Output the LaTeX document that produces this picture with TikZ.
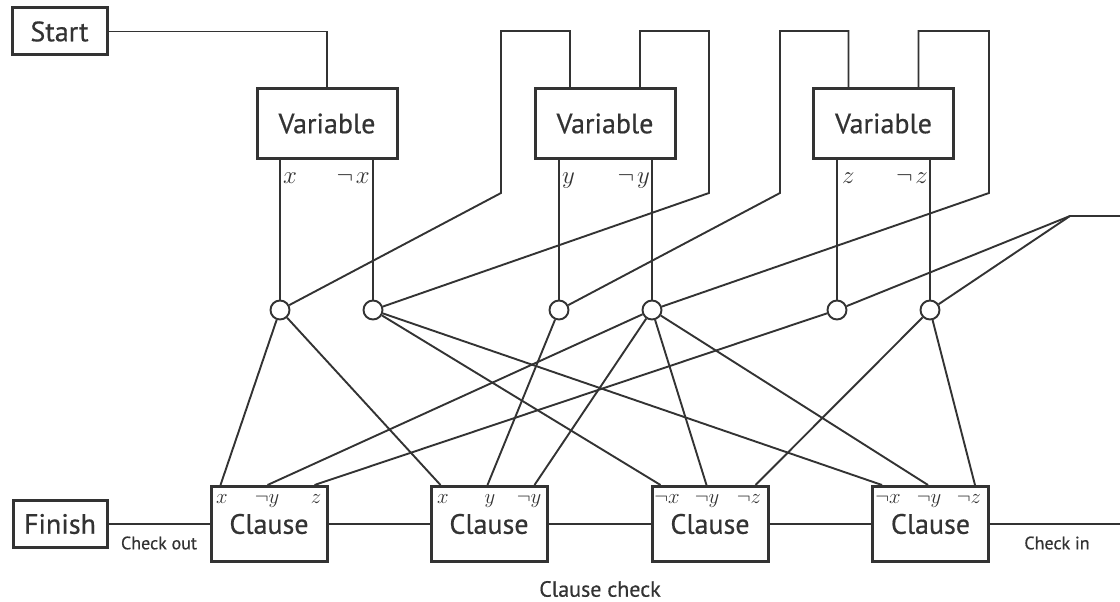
\documentclass[tikz,border=0pt]{standalone}
\usepackage{fontspec}
\setmainfont{PT Sans}[FakeBold=0.5]
\usetikzlibrary{calc}
\definecolor{ink}{HTML}{333333}
\begin{document}
\begin{tikzpicture}[x=1pt,y=-1pt,line join=miter,
  box/.style={draw=ink,line width=3pt,fill=white,inner sep=0pt,text=ink,font=\fontsize{28}{32}\selectfont},
  wire/.style={draw=ink,line width=1.9pt},
  dot/.style={circle,draw=ink,line width=1.9pt,fill=white,minimum size=19pt,inner sep=0pt},
  vlab/.style={inner sep=0pt,text=ink,font=\fontsize{30}{34}\selectfont},
  clab/.style={inner sep=0pt,text=ink,anchor=base,font=\fontsize{20}{23}\selectfont},
  note/.style={inner sep=0pt,text=ink,font=\fontsize{18}{21}\selectfont}]
\useasboundingbox (0,0) rectangle (1120,602);

% boxes
\node[box,minimum width=95pt,minimum height=47pt] (start) at (59.5,31.5) {Start};
\node[box,minimum width=140pt,minimum height=69pt] (v1) at (327,123.5) {Variable};
\node[box,minimum width=140pt,minimum height=69pt] (v2) at (605,123.5) {Variable};
\node[box,minimum width=140pt,minimum height=69pt] (v3) at (883.5,123.5) {Variable};
\node[box,minimum width=94pt,minimum height=47pt] (finish) at (60,524) {Finish};
\node[box,minimum width=116pt,minimum height=75pt] (c1) at (269,524) {Clause};
\node[box,minimum width=116pt,minimum height=75pt] (c2) at (489,524) {Clause};
\node[box,minimum width=116pt,minimum height=75pt] (c3) at (710,524) {Clause};
\node[box,minimum width=116pt,minimum height=75pt] (c4) at (930.5,524) {Clause};

% junction circles
\node[dot] (cx)  at (280,310) {};
\node[dot] (cnx) at (373,310) {};
\node[dot] (cy)  at (559,310) {};
\node[dot] (cny) at (652,310) {};
\node[dot] (cz)  at (837,310) {};
\node[dot] (cnz) at (930,310) {};

% routing points
\coordinate (l1) at (501,31);  \coordinate (l1b) at (501,193);
\coordinate (l2) at (709,31);  \coordinate (l2b) at (709,193);
\coordinate (l3) at (780,31);  \coordinate (l3b) at (780,193);
\coordinate (l4) at (989,31);  \coordinate (l4b) at (989,193);
\coordinate (rin) at (1120,216); \coordinate (rj) at (1070,216);
\coordinate (cin) at (1120,524);

% start and loops
\draw[wire] (start) -| (v1);
\draw[wire] ([xshift=-35pt]v2.north) |- (l1) -- (l1b) -- (cx);
\draw[wire] ([xshift=35pt]v2.north) |- (l2) -- (l2b) -- (cnx);
\draw[wire] ([xshift=-35pt]v3.north) |- (l3) -- (l3b) -- (cy);
\draw[wire] ([xshift=35pt]v3.north) |- (l4) -- (l4b) -- (cny);
\draw[wire] (rin) -- (rj) -- (cz);
\draw[wire] (rj) -- (cnz);

% variable outputs
\draw[wire] (cx |- v1.south) -- (cx);
\draw[wire] (cnx |- v1.south) -- (cnx);
\draw[wire] (cy |- v2.south) -- (cy);
\draw[wire] (cny |- v2.south) -- (cny);
\draw[wire] (cz |- v3.south) -- (cz);
\draw[wire] (cnz |- v3.south) -- (cnz);

% literal labels
\node[vlab,anchor=base west] (lx)  at (283,183) {$x$};
\node[vlab,anchor=base east] (lnx) at (370,183) {$\neg\mkern2mu x$};
\node[vlab,anchor=base west] (ly)  at (562,183) {$y$};
\node[vlab,anchor=base east] (lny) at (650,183) {$\neg\mkern2mu y$};
\node[vlab,anchor=base west] (lz)  at (842,183) {$z$};
\node[vlab,anchor=base east] (lnz) at (928,183) {$\neg\mkern2mu z$};

% clause connections
\draw[wire] (cx) -- ([xshift=11pt]c1.north west);
\draw[wire] (cx) -- ([xshift=11pt]c2.north west);
\draw[wire] (cy) -- ([xshift=58pt]c2.north west);
\draw[wire] (cny) -- ([xshift=58pt]c1.north west);
\draw[wire] (cny) -- ([xshift=105pt]c2.north west);
\draw[wire] (cny) -- ([xshift=56pt]c3.north west);
\draw[wire] (cny) -- ([xshift=57pt]c4.north west);
\draw[wire] (cz) -- ([xshift=105pt]c1.north west);
\draw[wire] (cnx) -- ([xshift=10pt]c3.north west);
\draw[wire] (cnx) -- ([xshift=11pt]c4.north west);
\draw[wire] (cnz) -- ([xshift=105pt]c3.north west);
\draw[wire] (cnz) -- ([xshift=104pt]c4.north west);

% chain
\draw[wire] (finish) -- (c1);
\draw[wire] (c1) -- (c2);
\draw[wire] (c2) -- (c3);
\draw[wire] (c3) -- (c4);
\draw[wire] (c4) -- (cin);

% clause literal labels
\node[clab] (a1) at (222,503) {$x$};
\node[clab] (a2) at (267,503) {$\neg y$};
\node[clab] (a3) at (316,503) {$z$};
\node[clab] (b1) at (443,503) {$x$};
\node[clab] (b2) at (490,503) {$y$};
\node[clab] (b3) at (529,503) {$\neg y$};
\node[clab] (d1) at (667,503) {$\neg x$};
\node[clab] (d2) at (707,503) {$\neg y$};
\node[clab] (d3) at (749,503) {$\neg z$};
\node[clab] (e1) at (888,503) {$\neg x$};
\node[clab] (e2) at (929,503) {$\neg y$};
\node[clab] (e3) at (969,503) {$\neg z$};

% notes
\node[note] (cout) at (159,543) {Check out};
\node[note] (cinl) at (1057,543) {Check in};
\node[note,font=\fontsize{22}{26}\selectfont] (cc) at (600,589) {Clause check};
\end{tikzpicture}
\end{document}
